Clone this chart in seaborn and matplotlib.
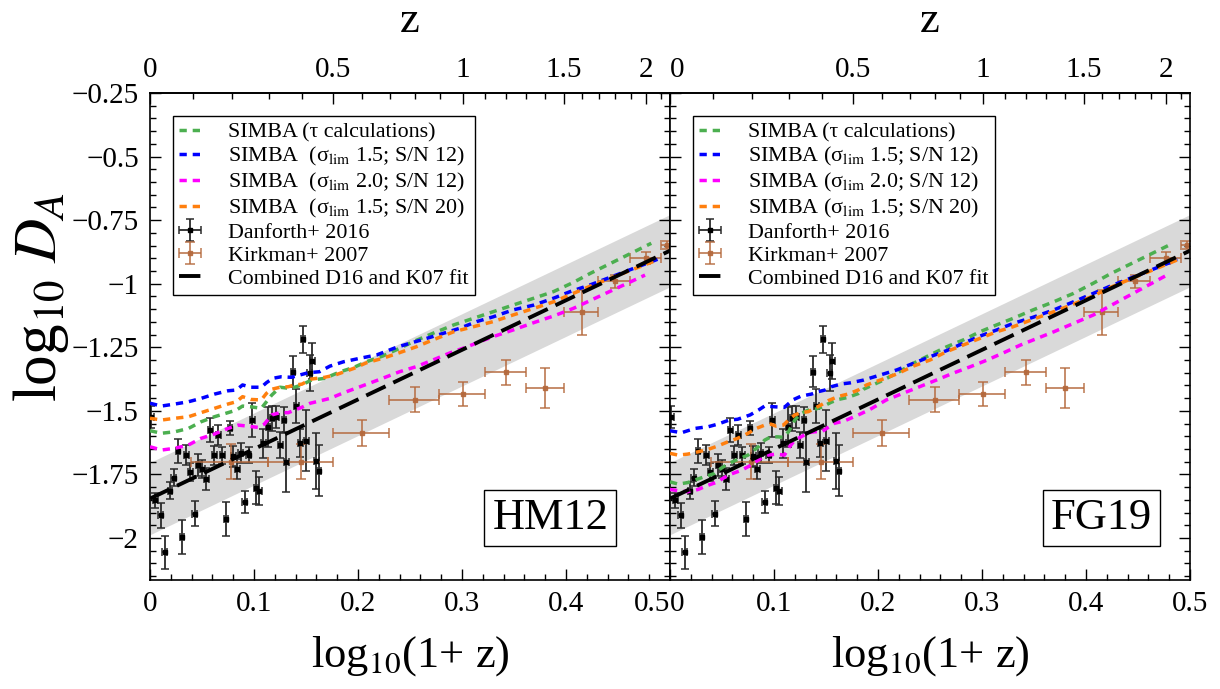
import numpy as np
import matplotlib
matplotlib.use('Agg')
import matplotlib.pyplot as plt
from matplotlib.ticker import MultipleLocator, FixedLocator, FuncFormatter
import seaborn as sns

# ---- data (x = log10(1+z), y = log10 D_A) ----

# HM12 panel, SIMBA curves
hm12_green_x = [0.000, 0.011, 0.024, 0.037, 0.049, 0.062, 0.075, 0.083, 0.089, 0.097, 0.107, 0.112, 0.117, 0.125, 0.133, 0.139, 0.146, 0.155, 0.168, 0.183, 0.196, 0.208, 0.224, 0.240, 0.253, 0.272, 0.292, 0.311, 0.330, 0.349, 0.369, 0.388, 0.407, 0.423, 0.482]
hm12_green_y = [-1.578, -1.588, -1.582, -1.569, -1.543, -1.523, -1.507, -1.497, -1.481, -1.484, -1.490, -1.464, -1.438, -1.407, -1.411, -1.407, -1.398, -1.379, -1.372, -1.346, -1.329, -1.307, -1.284, -1.254, -1.228, -1.195, -1.162, -1.136, -1.110, -1.084, -1.057, -1.031, -0.995, -0.960, -0.841]

hm12_blue_x = [0.000, 0.011, 0.024, 0.037, 0.049, 0.062, 0.075, 0.083, 0.089, 0.097, 0.107, 0.112, 0.118, 0.126, 0.136, 0.144, 0.152, 0.163, 0.173, 0.186, 0.202, 0.218, 0.237, 0.250, 0.266, 0.282, 0.298, 0.314, 0.330, 0.349, 0.369, 0.388, 0.404, 0.423, 0.488]
hm12_blue_y = [-1.470, -1.481, -1.473, -1.464, -1.451, -1.434, -1.421, -1.418, -1.398, -1.407, -1.407, -1.389, -1.372, -1.366, -1.368, -1.359, -1.350, -1.346, -1.324, -1.307, -1.293, -1.280, -1.250, -1.234, -1.215, -1.195, -1.175, -1.149, -1.130, -1.103, -1.084, -1.057, -1.031, -1.005, -0.904]

hm12_magenta_x = [0.000, 0.011, 0.024, 0.037, 0.049, 0.062, 0.075, 0.085, 0.094, 0.104, 0.110, 0.117, 0.125, 0.133, 0.139, 0.146, 0.154, 0.173, 0.186, 0.202, 0.221, 0.240, 0.256, 0.272, 0.289, 0.305, 0.317, 0.330, 0.349, 0.369, 0.388, 0.407, 0.476]
hm12_magenta_y = [-1.641, -1.654, -1.647, -1.634, -1.608, -1.591, -1.569, -1.556, -1.560, -1.565, -1.552, -1.516, -1.507, -1.507, -1.497, -1.486, -1.470, -1.451, -1.429, -1.405, -1.376, -1.346, -1.326, -1.300, -1.271, -1.248, -1.228, -1.208, -1.182, -1.153, -1.127, -1.097, -0.966]

hm12_orange_x = [0.000, 0.011, 0.024, 0.037, 0.049, 0.062, 0.075, 0.083, 0.089, 0.097, 0.107, 0.112, 0.117, 0.125, 0.133, 0.139, 0.146, 0.155, 0.168, 0.178, 0.196, 0.208, 0.224, 0.240, 0.256, 0.272, 0.292, 0.311, 0.330, 0.349, 0.369, 0.388, 0.407, 0.423, 0.488]
hm12_orange_y = [-1.529, -1.536, -1.529, -1.523, -1.507, -1.490, -1.473, -1.464, -1.444, -1.455, -1.457, -1.431, -1.415, -1.407, -1.405, -1.398, -1.395, -1.375, -1.368, -1.359, -1.333, -1.311, -1.293, -1.271, -1.248, -1.221, -1.189, -1.169, -1.149, -1.123, -1.097, -1.071, -1.038, -1.010, -0.906]

# FG19 panel, SIMBA curves
fg19_green_x = [0.000, 0.008, 0.017, 0.024, 0.033, 0.043, 0.049, 0.057, 0.065, 0.075, 0.085, 0.091, 0.097, 0.104, 0.109, 0.114, 0.120, 0.126, 0.133, 0.139, 0.146, 0.155, 0.162, 0.171, 0.181, 0.186, 0.202, 0.218, 0.234, 0.250, 0.266, 0.282, 0.298, 0.314, 0.330, 0.349, 0.369, 0.388, 0.407, 0.423, 0.482]
fg19_green_y = [-1.779, -1.788, -1.782, -1.772, -1.759, -1.746, -1.726, -1.706, -1.691, -1.674, -1.641, -1.615, -1.602, -1.602, -1.604, -1.582, -1.536, -1.510, -1.497, -1.494, -1.485, -1.466, -1.455, -1.447, -1.432, -1.415, -1.385, -1.352, -1.313, -1.280, -1.248, -1.221, -1.189, -1.162, -1.136, -1.103, -1.071, -1.038, -0.998, -0.962, -0.844]

fg19_blue_x = [0.000, 0.011, 0.024, 0.037, 0.046, 0.057, 0.065, 0.077, 0.085, 0.091, 0.101, 0.110, 0.118, 0.126, 0.136, 0.142, 0.149, 0.155, 0.165, 0.173, 0.186, 0.202, 0.218, 0.234, 0.250, 0.266, 0.282, 0.298, 0.314, 0.330, 0.349, 0.369, 0.388, 0.407, 0.423, 0.488]
fg19_blue_y = [-1.578, -1.586, -1.569, -1.562, -1.552, -1.536, -1.533, -1.516, -1.497, -1.481, -1.484, -1.486, -1.457, -1.442, -1.434, -1.425, -1.418, -1.405, -1.394, -1.390, -1.379, -1.359, -1.339, -1.313, -1.287, -1.263, -1.234, -1.206, -1.182, -1.156, -1.132, -1.103, -1.071, -1.038, -1.010, -0.905]

fg19_magenta_x = [0.000, 0.008, 0.017, 0.027, 0.037, 0.046, 0.051, 0.059, 0.069, 0.078, 0.085, 0.094, 0.102, 0.110, 0.115, 0.120, 0.126, 0.133, 0.139, 0.146, 0.152, 0.158, 0.168, 0.181, 0.192, 0.208, 0.224, 0.240, 0.256, 0.272, 0.289, 0.305, 0.321, 0.337, 0.353, 0.369, 0.388, 0.407, 0.476]
fg19_magenta_y = [-1.809, -1.814, -1.818, -1.809, -1.792, -1.779, -1.765, -1.748, -1.733, -1.713, -1.693, -1.674, -1.670, -1.674, -1.641, -1.615, -1.602, -1.586, -1.582, -1.582, -1.565, -1.549, -1.539, -1.516, -1.495, -1.457, -1.431, -1.405, -1.379, -1.352, -1.326, -1.300, -1.271, -1.241, -1.215, -1.189, -1.156, -1.123, -0.970]

fg19_orange_x = [0.000, 0.008, 0.017, 0.027, 0.037, 0.046, 0.056, 0.065, 0.075, 0.083, 0.091, 0.097, 0.102, 0.109, 0.114, 0.120, 0.126, 0.133, 0.139, 0.146, 0.152, 0.162, 0.171, 0.181, 0.189, 0.202, 0.218, 0.234, 0.250, 0.266, 0.282, 0.298, 0.314, 0.330, 0.349, 0.369, 0.388, 0.407, 0.423, 0.488]
fg19_orange_y = [-1.667, -1.674, -1.670, -1.661, -1.651, -1.638, -1.621, -1.608, -1.588, -1.569, -1.556, -1.552, -1.560, -1.556, -1.536, -1.516, -1.507, -1.503, -1.490, -1.475, -1.460, -1.443, -1.434, -1.418, -1.398, -1.379, -1.355, -1.324, -1.300, -1.267, -1.241, -1.215, -1.189, -1.169, -1.140, -1.110, -1.080, -1.048, -1.015, -0.906]

# Danforth+ 2016 points (same in both panels)
d16_x = [0.0013, 0.0051, 0.0103, 0.0141, 0.0192, 0.0228, 0.0269, 0.0308, 0.0350, 0.0388, 0.0430, 0.0460, 0.0503, 0.0542, 0.0580, 0.0619, 0.0657, 0.0696, 0.0731, 0.0769, 0.0801, 0.0840, 0.0872, 0.0910, 0.0949, 0.0984, 0.1019, 0.1051, 0.1090, 0.1135, 0.1173, 0.1215, 0.1253, 0.1288, 0.1311, 0.1375, 0.1407, 0.1446, 0.1471, 0.1503, 0.1535, 0.1560, 0.1600, 0.1625]
d16_y = [-1.525, -1.851, -1.910, -2.056, -1.814, -1.763, -1.659, -1.995, -1.674, -1.740, -1.904, -1.712, -1.729, -1.769, -1.575, -1.675, -1.594, -1.675, -1.925, -1.566, -1.678, -1.730, -1.667, -1.857, -1.674, -1.536, -1.802, -1.815, -1.628, -1.562, -1.529, -1.523, -1.634, -1.536, -1.700, -1.346, -1.481, -1.625, -1.219, -1.617, -1.350, -1.303, -1.696, -1.735]
d16_err = [0.043, 0.030, 0.049, 0.064, 0.033, 0.033, 0.047, 0.066, 0.040, 0.036, 0.050, 0.043, 0.036, 0.043, 0.046, 0.038, 0.039, 0.034, 0.066, 0.028, 0.041, 0.039, 0.039, 0.043, 0.031, 0.066, 0.066, 0.054, 0.056, 0.079, 0.050, 0.043, 0.052, 0.052, 0.118, 0.061, 0.066, 0.055, 0.052, 0.120, 0.070, 0.070, 0.111, 0.100]

# Kirkman+ 2007 binned points
k07_x = [0.078, 0.145, 0.2035, 0.2548, 0.3006, 0.342, 0.3798, 0.415, 0.447, 0.477, 0.497]
k07_xlo = [0.0397, 0.1135, 0.1756, 0.2301, 0.278, 0.322, 0.3615, 0.398, 0.431, 0.462, 0.491]
k07_xhi = [0.1135, 0.176, 0.2301, 0.2782, 0.322, 0.3615, 0.398, 0.431, 0.462, 0.491, 0.52]
k07_y = [-1.700, -1.700, -1.587, -1.457, -1.435, -1.348, -1.411, -1.113, -0.991, -0.900, -0.848]
k07_err = [0.068, 0.068, 0.050, 0.049, 0.047, 0.049, 0.079, 0.088, 0.026, 0.024, 0.017]

# combined D16 + K07 linear fit and its scatter band
fit_intercept = -1.845
fit_slope = 1.95
fit_scatter = 0.142

z_major = [0, 0.5, 1, 1.5, 2]

label_sets = {
    'HM12': ['SIMBA (τ calculations)',
             'SIMBA  (σ$_{\\rm lim}$ 1.5; S/N 12)',
             'SIMBA  (σ$_{\\rm lim}$ 2.0; S/N 12)',
             'SIMBA  (σ$_{\\rm lim}$ 1.5; S/N 20)'],
    'FG19': ['SIMBA (τ calculations)',
             'SIMBA (σ$_{\\rm lim}$ 1.5; S/N 12)',
             'SIMBA (σ$_{\\rm lim}$ 2.0; S/N 12)',
             'SIMBA (σ$_{\\rm lim}$ 1.5; S/N 20)'],
}

colours = ['#4caf50', '#0000ff', '#ff00ff', '#ff7f0e']

sns.set_theme(style='ticks')
plt.rcParams['font.family'] = ['Liberation Serif', 'DejaVu Serif']
plt.rcParams['mathtext.fontset'] = 'stix'
plt.rcParams['axes.unicode_minus'] = True
for key in ['axes.edgecolor', 'text.color', 'xtick.color', 'ytick.color', 'axes.labelcolor']:
    plt.rcParams[key] = 'black'


def to_z(lx):
    return 10 ** np.asarray(lx) - 1


def to_logz(z):
    return np.log10(1 + np.clip(np.asarray(z, dtype=float), -0.99, None))


def draw_panel(ax, curves, name, name_x, first_panel):
    labels = label_sets[name]
    xx = np.array([0.0, 0.5])
    yfit = fit_intercept + fit_slope * xx
    ax.fill_between(xx, yfit - fit_scatter, yfit + fit_scatter, color='#d9d9d9', lw=0, zorder=0)

    d16 = ax.errorbar(d16_x, d16_y, yerr=d16_err, xerr=0.0022, fmt='s', ms=2.4, color='black',
                      ecolor='#2a2a2a', elinewidth=1.3, capsize=3, capthick=1.1, zorder=2,
                      label='Danforth+ 2016')
    xerr = [np.array(k07_x) - np.array(k07_xlo), np.array(k07_xhi) - np.array(k07_x)]
    k07 = ax.errorbar(k07_x, k07_y, yerr=k07_err, xerr=xerr, fmt='s', ms=2.2, color='#b5693d',
                      ecolor='#b5693d', elinewidth=1.2, capsize=3.5, capthick=1.1, alpha=0.9,
                      zorder=2, label='Kirkman+ 2007')

    handles = []
    for (cx, cy), colour, lab in zip(curves, colours, labels):
        sns.lineplot(x=cx, y=cy, color=colour, lw=2.5, linestyle=(0, (2.1, 1.7)),
                     ax=ax, zorder=3, label=lab, legend=False)
        handles.append(ax.lines[-1])

    fit_line, = ax.plot(xx, yfit, color='black', lw=2.8, dashes=(5.5, 2.2), zorder=4,
                        label='Combined D16 and K07 fit')
    handles += [d16, k07, fit_line]

    leg = ax.legend(handles=handles, labels=labels + ['Danforth+ 2016', 'Kirkman+ 2007',
                                                      'Combined D16 and K07 fit'],
                    loc='upper left', bbox_to_anchor=(0.044, 0.953), borderaxespad=0,
                    fontsize=15.8, frameon=True, fancybox=False, framealpha=1,
                    edgecolor='black', handlelength=1.0, handletextpad=1.2,
                    labelspacing=0.12, borderpad=0.3)
    leg.get_frame().set_linewidth(1.0)

    ax.text(name_x, 0.127, name, transform=ax.transAxes, ha='center', va='center', fontsize=32,
            bbox=dict(boxstyle='square,pad=0.18', fc='white', ec='black', lw=1.0), zorder=6)

    ax.set_xlim(0, 0.5)
    ax.set_ylim(-2.165, -0.25)
    ticks = np.round(np.arange(0, 0.51, 0.1), 1)
    ax.set_xticks(ticks, [f'{t:g}' for t in ticks])
    ax.xaxis.set_minor_locator(MultipleLocator(0.02))
    ax.yaxis.set_major_locator(MultipleLocator(0.25))
    ax.yaxis.set_minor_locator(MultipleLocator(0.05))
    ax.yaxis.set_major_formatter(FuncFormatter(lambda v, p: f'{v:g}'.replace('-', '\u2212')))
    ax.tick_params(which='both', direction='in', top=False, right=True, width=1.0,
                   labelsize=21, pad=8)
    ax.tick_params(which='major', length=8)
    ax.tick_params(which='minor', length=4)
    if first_panel:
        ax.get_xticklabels()[-1].set_ha('right')
    else:
        ax.get_xticklabels()[0].set_ha('left')
        ax.tick_params(axis='y', labelleft=False)
    for sp in ax.spines.values():
        sp.set_linewidth(1.2)

    sec = ax.secondary_xaxis('top', functions=(to_z, to_logz))
    sec.set_xticks(z_major, [f'{t:g}' for t in z_major])
    sec.xaxis.set_minor_locator(FixedLocator(np.round(np.arange(0, 2.15, 0.1), 1)))
    sec.tick_params(which='both', direction='in', width=1.0, labelsize=21, pad=7)
    sec.tick_params(which='major', length=8)
    sec.tick_params(which='minor', length=4)
    if not first_panel:
        sec.get_xticklabels()[0].set_ha('left')
    sec.set_xlabel('z', fontsize=32, labelpad=18)

    ax.set_xlabel('log$_{10}$(1+ z)', fontsize=32, labelpad=12)
    ax.set_ylabel('')


fig = plt.figure(figsize=(12.2, 6.89), dpi=100)
ax1 = fig.add_axes([150 / 1220, 109 / 689, 520 / 1220, 487 / 689])
ax2 = fig.add_axes([670 / 1220, 109 / 689, 520 / 1220, 487 / 689])

draw_panel(ax1, [(hm12_green_x, hm12_green_y), (hm12_blue_x, hm12_blue_y),
                 (hm12_magenta_x, hm12_magenta_y), (hm12_orange_x, hm12_orange_y)],
           'HM12', 0.770, True)
draw_panel(ax2, [(fg19_green_x, fg19_green_y), (fg19_blue_x, fg19_blue_y),
                 (fg19_magenta_x, fg19_magenta_y), (fg19_orange_x, fg19_orange_y)],
           'FG19', 0.830, False)

ax1.set_ylabel('log$_{10}$ $D_A$', fontsize=44)
ax1.yaxis.set_label_coords(-0.152, 0.581)

fig.savefig('out.png', dpi=100)
